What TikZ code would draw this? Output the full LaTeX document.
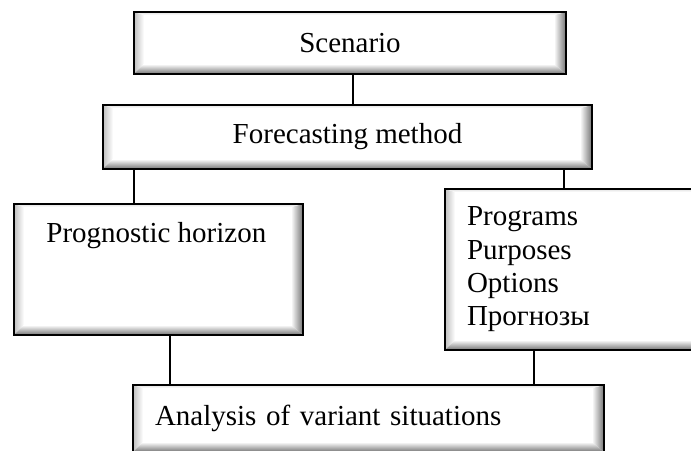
\documentclass[tikz,border=0pt]{standalone}
\usepackage{fontspec}
\setmainfont{Liberation Serif}
\usepackage{tikz}
\usetikzlibrary{positioning,calc}

\begin{document}
\begin{tikzpicture}[
  x=0.5pt, y=0.5pt,
  font=\fontsize{14.5pt}{16.65pt}\selectfont,
  bevel/.style={path picture={
    \coordinate (bsw) at (path picture bounding box.south west);
    \coordinate (bse) at (path picture bounding box.south east);
    \coordinate (bnw) at (path picture bounding box.north west);
    \coordinate (bne) at (path picture bounding box.north east);
    \shade[left color=black!25, right color=white]
      (bsw) -- (bnw) -- ($(bnw)+(5pt,-1.5pt)$) -- ($(bsw)+(5pt,5pt)$) -- cycle;
    \shade[left color=white, right color=black!55]
      (bse) -- (bne) -- ($(bne)+(-6pt,-1.5pt)$) -- ($(bse)+(-6pt,5pt)$) -- cycle;
    \shade[top color=white, bottom color=black!55]
      (bsw) -- (bse) -- ($(bse)+(-6pt,5pt)$) -- ($(bsw)+(5pt,5pt)$) -- cycle;
    \shade[top color=black!12, bottom color=white]
      (bnw) -- (bne) -- ($(bne)+(-6pt,-1.5pt)$) -- ($(bnw)+(5pt,-1.5pt)$) -- cycle;
  }},
  box/.style={draw=black, line width=1.25pt, fill=white, bevel,
    inner sep=0pt, outer sep=0pt},
  txtbox/.style={box, align=left, inner xsep=11pt},
  conn/.style={line width=0.7pt},
  txt/.style={inner sep=0pt, align=left},
]
  \clip (0,0) rectangle (691,450);

  % boxes
  \node[box, minimum width=216pt, minimum height=31pt] (scen) at (350,407) {Scenario};
  \node[box, minimum width=244.5pt, minimum height=32pt] (fore) at (347.5,313)
    {Forecasting method};
  \node[box, minimum width=144.5pt, minimum height=65.5pt] (prog) at (158.5,180.5) {};
  \node[txtbox, text width=108pt, minimum height=80.5pt] (prg) at (575,180.5)
    {Programs\\Purposes\\Options\\Прогнозы};
  \node[txtbox, text width=213.5pt, minimum height=33.5pt] (anal) at (368.5,31.5)
    {Analysis of variant situations};

  \node[txt, below right=9pt and 16pt of prog.north west] (progtxt) {Prognostic horizon};

  % connectors
  \coordinate (c1) at ([xshift=1.5pt]scen.south);
  \coordinate (c2) at ([xshift=15.5pt]fore.south west);
  \coordinate (c3) at ([xshift=-14pt]fore.south east);
  \coordinate (c4) at ([xshift=78pt]prog.south west);
  \coordinate (c5) at ([xshift=44.5pt]prg.south west);

  \draw[conn] (c1) -- (c1 |- fore.north);
  \draw[conn] (c2) -- (c2 |- prog.north);
  \draw[conn] (c3) -- (c3 |- prg.north);
  \draw[conn] (c4) -- (c4 |- anal.north);
  \draw[conn] (c5) -- (c5 |- anal.north);
\end{tikzpicture}
\end{document}
